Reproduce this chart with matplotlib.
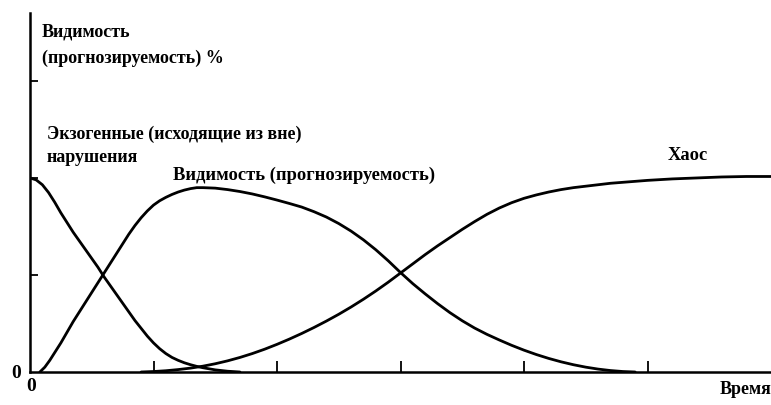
import matplotlib
matplotlib.use("Agg")
import matplotlib.pyplot as plt

# Data (x: time in tick units, y: level in tick units)
exo_x = [0.0, 0.05, 0.1, 0.15, 0.2, 0.25, 0.3, 0.35, 0.4, 0.45, 0.5, 0.55, 0.6, 0.65, 0.7,
         0.75, 0.8, 0.85, 0.9, 0.95, 1.0, 1.05, 1.1, 1.15, 1.2, 1.25, 1.3, 1.35, 1.4, 1.5,
         1.6, 1.7]
exo_y = [2.00, 1.98, 1.93, 1.85, 1.75, 1.64, 1.54, 1.44, 1.35, 1.26, 1.17, 1.08, 0.98, 0.89, 0.80,
         0.71, 0.62, 0.53, 0.45, 0.37, 0.30, 0.24, 0.19, 0.15, 0.12, 0.095, 0.075, 0.058, 0.044, 0.022,
         0.008, 0.0]

vis_x = [0.08, 0.12, 0.16, 0.2, 0.25, 0.3, 0.35, 0.4, 0.45, 0.5, 0.55, 0.6, 0.65, 0.7, 0.75,
         0.8, 0.85, 0.9, 0.95, 1.0, 1.05, 1.1, 1.15, 1.2, 1.25, 1.3, 1.35, 1.4, 1.5, 1.6,
         1.7, 1.8, 1.9, 2.0, 2.1, 2.2, 2.3, 2.4, 2.5, 2.6, 2.7, 2.8, 2.9, 3.0, 3.1,
         3.2, 3.3, 3.4, 3.5, 3.6, 3.7, 3.8, 3.9, 4.0, 4.1, 4.2, 4.3, 4.4, 4.5, 4.6,
         4.7, 4.8, 4.9]
vis_y = [0.0, 0.05, 0.12, 0.20, 0.30, 0.41, 0.52, 0.62, 0.72, 0.82, 0.92, 1.02, 1.12, 1.22, 1.32,
         1.42, 1.51, 1.59, 1.66, 1.72, 1.765, 1.80, 1.83, 1.855, 1.875, 1.89, 1.90, 1.90, 1.895, 1.88,
         1.86, 1.835, 1.805, 1.772, 1.737, 1.70, 1.652, 1.597, 1.53, 1.452, 1.362, 1.26, 1.147, 1.025, 0.91,
         0.805, 0.705, 0.612, 0.528, 0.453, 0.388, 0.33, 0.275, 0.225, 0.18, 0.14, 0.105, 0.075, 0.05, 0.03,
         0.015, 0.005, 0.0]

chaos_x = [0.9, 1.0, 1.1, 1.2, 1.3, 1.4, 1.5, 1.6, 1.7, 1.8, 1.9, 2.0, 2.1, 2.2, 2.3,
           2.4, 2.5, 2.6, 2.7, 2.8, 2.9, 3.0, 3.1, 3.2, 3.3, 3.4, 3.5, 3.6, 3.7, 3.8,
           3.9, 4.0, 4.1, 4.2, 4.3, 4.4, 4.5, 4.6, 4.7, 4.8, 4.9, 5.0, 5.2, 5.4, 5.6,
           5.8, 6.0]
chaos_y = [0.0, 0.005, 0.013, 0.025, 0.04, 0.06, 0.085, 0.115, 0.15, 0.19, 0.235, 0.285, 0.339, 0.397, 0.459,
           0.525, 0.595, 0.67, 0.75, 0.835, 0.925, 1.02, 1.115, 1.21, 1.30, 1.385, 1.47, 1.55, 1.625, 1.69,
           1.745, 1.79, 1.825, 1.855, 1.88, 1.90, 1.915, 1.93, 1.945, 1.955, 1.965, 1.975, 1.99, 2.0, 2.01,
           2.015, 2.015]

x_ticks = [1, 2, 3, 4, 5]
y_ticks = [1, 2, 3]

y_title = "Видимость\n(прогнозируемость) %"
exo_label = "Экзогенные (исходящие из вне)\nнарушения"
vis_label = "Видимость (прогнозируемость)"
chaos_label = "Хаос"
x_title = "Время"

W, H = 771, 405
fig = plt.figure(figsize=(W / 100, H / 100), dpi=100)
ax_left, ax_bottom, ax_right, ax_top = 30, 372, 771, 13
ax = fig.add_axes([ax_left / W, 1 - ax_bottom / H, (ax_right - ax_left) / W, (ax_bottom - ax_top) / H])
ax.set_xlim(0, 6.0)
ax.set_ylim(0, 3.7)

for s in ["top", "right"]:
    ax.spines[s].set_visible(False)
for s in ["left", "bottom"]:
    ax.spines[s].set_linewidth(1.8)
    ax.spines[s].set_color("black")

ax.set_xticks(x_ticks)
ax.set_yticks(y_ticks)
ax.set_xticklabels([])
ax.set_yticklabels([])
ax.tick_params(axis="x", direction="in", length=8, width=1.3)
ax.tick_params(axis="y", direction="in", length=6, width=1.3)

lw = 2.0
for xs, ys in [(exo_x, exo_y), (vis_x, vis_y), (chaos_x, chaos_y)]:
    ax.plot(xs, ys, color="black", lw=lw, solid_capstyle="round", solid_joinstyle="round")

font = dict(family=["Liberation Serif", "DejaVu Serif"], fontweight="bold", color="black")

fig.text(42 / W, 1 - 24 / H, y_title, ha="left", va="top", fontsize=13, linespacing=1.65, **font)
fig.text(47 / W, 1 - 126 / H, exo_label, ha="left", va="top", fontsize=13, linespacing=1.4, **font)
fig.text(173 / W, 1 - 167 / H, vis_label, ha="left", va="top", fontsize=13.3, **font)
fig.text(668 / W, 1 - 147 / H, chaos_label, ha="left", va="top", fontsize=13.3, **font)
fig.text(771 / W, 1 - 381 / H, x_title, ha="right", va="top", fontsize=13, **font)
fig.text(11 / W, 1 - 373 / H, "0", ha="left", va="center", fontsize=14, **font)
fig.text(31 / W, 1 - 378 / H, "0", ha="center", va="top", fontsize=14, **font)

fig.savefig("out.png", dpi=100)
